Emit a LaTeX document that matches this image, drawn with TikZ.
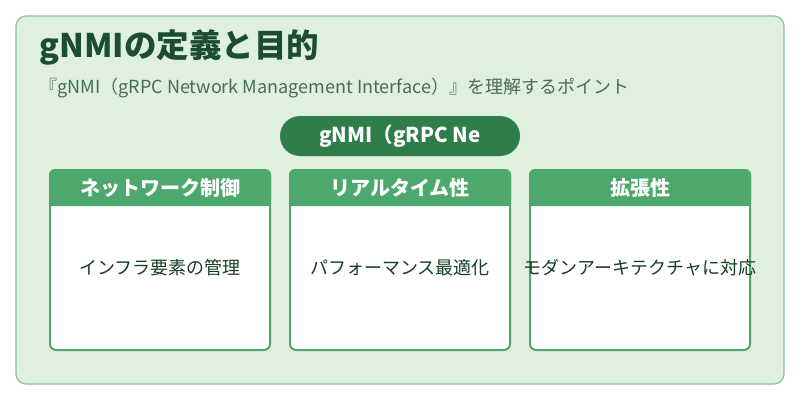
\documentclass[tikz,border=0pt]{standalone}
\usepackage{fontspec}
\setmainfont{Noto Sans CJK JP}
\definecolor{bgc}{HTML}{DFF0DF}
\definecolor{bdc}{HTML}{8CC49C}
\definecolor{ttl}{HTML}{1B4D2E}
\definecolor{sub}{HTML}{4A6B55}
\definecolor{pill}{HTML}{2E7D4A}
\definecolor{hdr}{HTML}{4CA86C}
\begin{document}
\begin{tikzpicture}[x=1pt,y=-1pt,
 card/.style={draw=hdr,line width=2pt,fill=white,rounded corners=6pt},
 htxt/.style={text=white,font=\fontsize{20}{22}\selectfont\bfseries},
 btxt/.style={text=ttl!80!black,font=\fontsize{18}{20}\selectfont}]
\useasboundingbox (0,0) rectangle (800,400);
\fill[white] (0,0) rectangle (800,400);
\draw[fill=bgc,draw=bdc,line width=1.2pt,rounded corners=10pt] (16,16) rectangle (784,384);
\node[anchor=west,text=ttl,font=\fontsize{32.5}{34}\selectfont\bfseries] (t) at (36,47) {gNMIの定義と目的};
\node[anchor=west,text=sub,font=\fontsize{18}{20}\selectfont] (s) at (36,88) {『gNMI（gRPC Network Management Interface）』を理解するポイント};
\fill[pill,rounded corners=20pt] (280,116) rectangle (520,156);
\node[text=white,font=\fontsize{20.5}{22}\selectfont\bfseries] (p) at (400,136) {gNMI（gRPC Ne};
\foreach \x/\h/\b [count=\i] in {50/ネットワーク制御/インフラ要素の管理,290/リアルタイム性/パフォーマンス最適化,530/拡張性/モダンアーキテクチャに対応}{
 \draw[card] (\x,170) rectangle ++(220,180);
 \fill[hdr,rounded corners=6pt] (\x-1,169) rectangle ++(222,37);
 \fill[hdr] (\x-1,190) rectangle ++(222,16);
 \node[htxt] (h\i) at (\x+110,188) {\h};
 \node[btxt] (b\i) at (\x+110,268) {\b};
}
\end{tikzpicture}
\end{document}
